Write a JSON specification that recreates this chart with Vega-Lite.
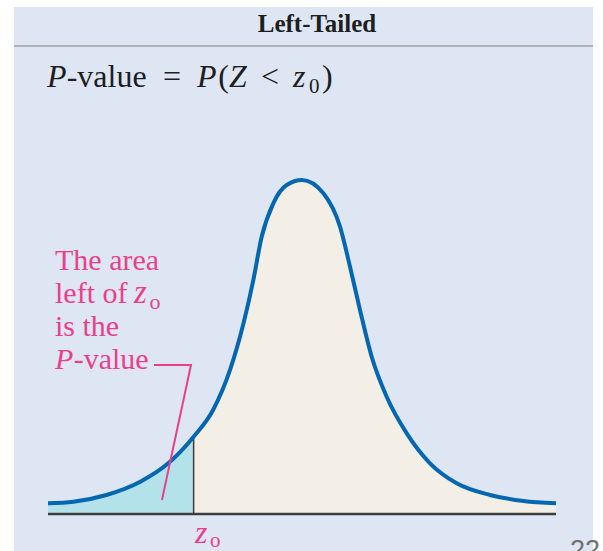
{
  "$schema": "https://vega.github.io/schema/vega-lite/v6.json",
  "width": 579,
  "height": 544,
  "autosize": {"type": "none"},
  "padding": {"left": 14, "top": 7, "right": 10, "bottom": 0},
  "background": "white",
  "view": {"fill": "#dfe6f3", "stroke": null},
  "config": {"axis": {"disable": true}},
  "datasets": {
    "curve": [
      {"z": -3.0, "d": 0.0128},
      {"z": -2.7, "d": 0.0147},
      {"z": -2.31, "d": 0.0228},
      {"z": -1.91, "d": 0.0387},
      {"z": -1.58, "d": 0.0607},
      {"z": -1.28, "d": 0.0926},
      {"z": -1.05, "d": 0.1246},
      {"z": -0.85, "d": 0.1725},
      {"z": -0.69, "d": 0.2287},
      {"z": -0.575, "d": 0.2802},
      {"z": -0.476, "d": 0.3321},
      {"z": -0.339, "d": 0.3721},
      {"z": -0.181, "d": 0.394},
      {"z": 0.0, "d": 0.4},
      {"z": 0.252, "d": 0.3841},
      {"z": 0.449, "d": 0.3441},
      {"z": 0.567, "d": 0.2962},
      {"z": 0.685, "d": 0.2443},
      {"z": 0.823, "d": 0.1884},
      {"z": 1.0, "d": 0.1405},
      {"z": 1.237, "d": 0.0966},
      {"z": 1.512, "d": 0.0607},
      {"z": 1.827, "d": 0.0368},
      {"z": 2.22, "d": 0.0228},
      {"z": 2.614, "d": 0.0156},
      {"z": 3.0, "d": 0.0128}
    ],
    "leader": [
      {"z": -1.748, "d": 0.1784, "step": 1},
      {"z": -1.311, "d": 0.1784, "step": 2},
      {"z": -1.654, "d": 0.0168, "step": 3}
    ],
    "one": [{}]
  },
  "layer": [
    {
      "data": {"name": "curve"},
      "mark": {"type": "area", "color": "#f3efe7", "interpolate": "monotone"},
      "encoding": {
        "x": {"field": "z", "type": "quantitative", "scale": {"domain": [-3.4016, 3.437], "nice": false, "zero": false}, "axis": null},
        "y": {"field": "d", "type": "quantitative", "scale": {"domain": [-0.04431, 0.60719], "nice": false, "zero": false}, "axis": null},
        "y2": {"datum": 0}
      }
    },
    {
      "data": {"name": "curve"},
      "transform": [{"filter": "datum.z <= -1.28"}],
      "mark": {"type": "area", "color": "#b4e2ea", "interpolate": "monotone"},
      "encoding": {
        "x": {"field": "z", "type": "quantitative"},
        "y": {"field": "d", "type": "quantitative"},
        "y2": {"datum": 0}
      }
    },
    {
      "data": {"name": "one"},
      "mark": {"type": "rule", "color": "#3a3a3a", "strokeWidth": 1.5},
      "encoding": {"x": {"datum": -1.28}, "y": {"datum": 0}, "y2": {"datum": 0.0926}}
    },
    {
      "data": {"name": "one"},
      "mark": {"type": "rule", "color": "#3d3d3d", "strokeWidth": 2.5},
      "encoding": {"x": {"datum": -3.0}, "x2": {"datum": 3.0}, "y": {"datum": 0}}
    },
    {
      "data": {"name": "one"},
      "mark": {"type": "rule", "color": "#aeb2b8", "strokeWidth": 2},
      "encoding": {"y": {"datum": 0.5605}}
    },
    {
      "data": {"name": "curve"},
      "mark": {"type": "line", "color": "#0567b2", "strokeWidth": 4, "interpolate": "monotone"},
      "encoding": {
        "x": {"field": "z", "type": "quantitative"},
        "y": {"field": "d", "type": "quantitative"}
      }
    },
    {
      "data": {"name": "leader"},
      "mark": {"type": "line", "color": "#ea3f8b", "strokeWidth": 2},
      "encoding": {
        "x": {"field": "z", "type": "quantitative"},
        "y": {"field": "d", "type": "quantitative"},
        "order": {"field": "step", "type": "quantitative"}
      }
    },
    {
      "data": {"name": "one"},
      "mark": {"type": "text", "text": "Left-Tailed", "font": "Liberation Serif", "fontSize": 25, "fontWeight": "bold", "align": "center", "baseline": "alphabetic", "color": "#1e1e1e"},
      "encoding": {"x": {"datum": 0.177}, "y": {"datum": 0.5772}}
    },
    {
      "data": {"name": "one"},
      "mark": {"type": "text", "text": "P", "font": "Liberation Serif", "fontSize": 32, "fontStyle": "italic", "align": "left", "baseline": "alphabetic", "color": "#1e1e1e"},
      "encoding": {"x": {"datum": -3.012}, "y": {"datum": 0.5114}}
    },
    {
      "data": {"name": "one"},
      "mark": {"type": "text", "text": "-value", "font": "Liberation Serif", "fontSize": 32, "align": "left", "baseline": "alphabetic", "color": "#1e1e1e"},
      "encoding": {"x": {"datum": -2.78}, "y": {"datum": 0.5114}}
    },
    {
      "data": {"name": "one"},
      "mark": {"type": "text", "text": "=", "font": "Liberation Serif", "fontSize": 32, "align": "left", "baseline": "alphabetic", "color": "#1e1e1e"},
      "encoding": {"x": {"datum": -1.642}, "y": {"datum": 0.5114}}
    },
    {
      "data": {"name": "one"},
      "mark": {"type": "text", "text": "P", "font": "Liberation Serif", "fontSize": 32, "fontStyle": "italic", "align": "left", "baseline": "alphabetic", "color": "#1e1e1e"},
      "encoding": {"x": {"datum": -1.24}, "y": {"datum": 0.5114}}
    },
    {
      "data": {"name": "one"},
      "mark": {"type": "text", "text": "(", "font": "Liberation Serif", "fontSize": 32, "align": "left", "baseline": "alphabetic", "color": "#1e1e1e"},
      "encoding": {"x": {"datum": -0.99}, "y": {"datum": 0.5114}}
    },
    {
      "data": {"name": "one"},
      "mark": {"type": "text", "text": "Z", "font": "Liberation Serif", "fontSize": 32, "fontStyle": "italic", "align": "left", "baseline": "alphabetic", "color": "#1e1e1e"},
      "encoding": {"x": {"datum": -0.862}, "y": {"datum": 0.5114}}
    },
    {
      "data": {"name": "one"},
      "mark": {"type": "text", "text": "<", "font": "Liberation Serif", "fontSize": 32, "align": "left", "baseline": "alphabetic", "color": "#1e1e1e"},
      "encoding": {"x": {"datum": -0.484}, "y": {"datum": 0.5114}}
    },
    {
      "data": {"name": "one"},
      "mark": {"type": "text", "text": "z", "font": "Liberation Serif", "fontSize": 32, "fontStyle": "italic", "align": "left", "baseline": "alphabetic", "color": "#1e1e1e"},
      "encoding": {"x": {"datum": -0.106}, "y": {"datum": 0.5114}}
    },
    {
      "data": {"name": "one"},
      "mark": {"type": "text", "text": "0", "font": "Liberation Serif", "fontSize": 21, "align": "left", "baseline": "alphabetic", "color": "#1e1e1e"},
      "encoding": {"x": {"datum": 0.083}, "y": {"datum": 0.5042}}
    },
    {
      "data": {"name": "one"},
      "mark": {"type": "text", "text": ")", "font": "Liberation Serif", "fontSize": 32, "align": "left", "baseline": "alphabetic", "color": "#1e1e1e"},
      "encoding": {"x": {"datum": 0.236}, "y": {"datum": 0.5114}}
    },
    {
      "data": {"name": "one"},
      "mark": {"type": "text", "text": "The area", "font": "Liberation Serif", "fontSize": 30, "align": "left", "baseline": "alphabetic", "color": "#ea3f8b"},
      "encoding": {"x": {"datum": -2.917}, "y": {"datum": 0.2922}}
    },
    {
      "data": {"name": "one"},
      "mark": {"type": "text", "text": "left of", "font": "Liberation Serif", "fontSize": 30, "align": "left", "baseline": "alphabetic", "color": "#ea3f8b"},
      "encoding": {"x": {"datum": -2.917}, "y": {"datum": 0.2527}}
    },
    {
      "data": {"name": "one"},
      "mark": {"type": "text", "text": "z", "font": "Liberation Serif", "fontSize": 33, "fontStyle": "italic", "align": "left", "baseline": "alphabetic", "color": "#ea3f8b"},
      "encoding": {"x": {"datum": -1.984}, "y": {"datum": 0.2527}}
    },
    {
      "data": {"name": "one"},
      "mark": {"type": "text", "text": "o", "font": "Liberation Serif", "fontSize": 22, "align": "left", "baseline": "alphabetic", "color": "#ea3f8b"},
      "encoding": {"x": {"datum": -1.8}, "y": {"datum": 0.2455}}
    },
    {
      "data": {"name": "one"},
      "mark": {"type": "text", "text": "is the", "font": "Liberation Serif", "fontSize": 30, "align": "left", "baseline": "alphabetic", "color": "#ea3f8b"},
      "encoding": {"x": {"datum": -2.917}, "y": {"datum": 0.2132}}
    },
    {
      "data": {"name": "one"},
      "mark": {"type": "text", "text": "P", "font": "Liberation Serif", "fontSize": 30, "fontStyle": "italic", "align": "left", "baseline": "alphabetic", "color": "#ea3f8b"},
      "encoding": {"x": {"datum": -2.917}, "y": {"datum": 0.1737}}
    },
    {
      "data": {"name": "one"},
      "mark": {"type": "text", "text": "-value", "font": "Liberation Serif", "fontSize": 30, "align": "left", "baseline": "alphabetic", "color": "#ea3f8b"},
      "encoding": {"x": {"datum": -2.697}, "y": {"datum": 0.1737}}
    },
    {
      "data": {"name": "one"},
      "mark": {"type": "text", "text": "z", "font": "Liberation Serif", "fontSize": 32, "fontStyle": "italic", "align": "left", "baseline": "alphabetic", "color": "#ea3f8b"},
      "encoding": {"x": {"datum": -1.264}, "y": {"datum": -0.0347}}
    },
    {
      "data": {"name": "one"},
      "mark": {"type": "text", "text": "o", "font": "Liberation Serif", "fontSize": 21, "align": "left", "baseline": "alphabetic", "color": "#ea3f8b"},
      "encoding": {"x": {"datum": -1.087}, "y": {"datum": -0.0395}}
    },
    {
      "data": {"name": "one"},
      "mark": {"type": "text", "text": "22", "font": "Liberation Sans", "fontSize": 27, "align": "left", "baseline": "alphabetic", "color": "#707070"},
      "encoding": {"x": {"datum": 3.165}, "y": {"datum": -0.0539}}
    }
  ]
}
